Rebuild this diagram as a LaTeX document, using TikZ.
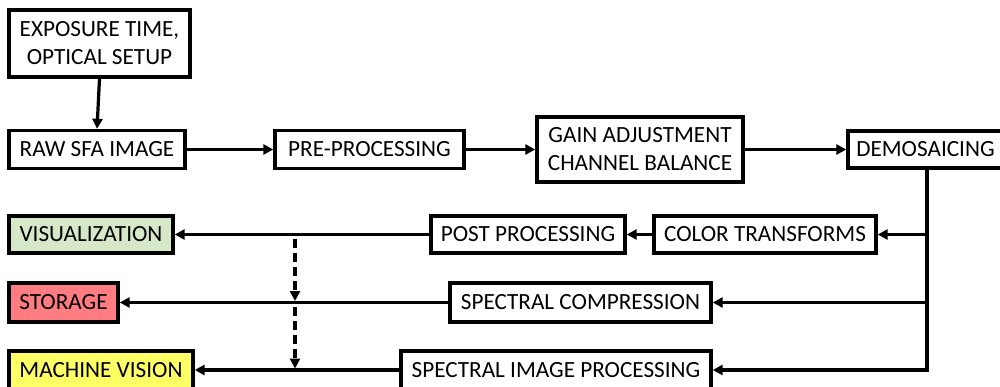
\documentclass[tikz,border=0pt]{standalone}
\usepackage{fontspec}
\setmainfont{Carlito}
\usetikzlibrary{arrows.meta}
\definecolor{visgreen}{HTML}{D6E8C8}
\definecolor{storred}{HTML}{FF7C80}
\definecolor{mvyellow}{HTML}{FFFF66}
\tikzset{
  blk/.style={draw=black, line width=3.4pt, fill=white, inner sep=0pt, align=center,
    font=\fontsize{23.2}{28}\selectfont},
  conn/.style={line width=3.2pt, -{Triangle[length=10pt,width=10pt]}},
  dconn/.style={line width=3.2pt, dash pattern=on 9pt off 5pt, -{Triangle[length=10pt,width=10pt]}},
}
\begin{document}
\begin{tikzpicture}[x=1pt,y=-1pt]
\useasboundingbox (0,0) rectangle (1000,387);
\node[blk, minimum width=181pt, minimum height=67pt] (expo) at (99.5,43.5) {EXPOSURE TIME,\\OPTICAL SETUP};
\node[blk, minimum width=176pt, minimum height=38pt] (raw) at (97,149.5) {RAW SFA IMAGE};
\node[blk, minimum width=189pt, minimum height=38pt] (pre) at (369.5,149.5) {PRE-PROCESSING};
\node[blk, minimum width=206pt, minimum height=65pt] (gain) at (640,149.5) {GAIN ADJUSTMENT\\CHANNEL BALANCE};
\node[blk, minimum width=155pt, minimum height=37pt] (demo) at (925.5,149.5) {DEMOSAICING};
\node[blk, minimum width=222pt, minimum height=37pt] (colt) at (765,234.5) {COLOR TRANSFORMS};
\node[blk, minimum width=194pt, minimum height=37pt] (post) at (528,234.5) {POST PROCESSING};
\node[blk, fill=visgreen, minimum width=164pt, minimum height=37pt] (vis) at (91,234.5) {VISUALIZATION};
\node[blk, minimum width=261pt, minimum height=39pt] (comp) at (580.5,302.5) {SPECTRAL COMPRESSION};
\node[blk, fill=storred, minimum width=109pt, minimum height=39pt] (stor) at (63.5,302.5) {STORAGE};
\node[blk, minimum width=310pt, minimum height=38pt] (sip) at (556,370) {SPECTRAL IMAGE PROCESSING};
\node[blk, fill=mvyellow, minimum width=184pt, minimum height=38pt] (mv) at (101,370) {MACHINE VISION};
\coordinate (bustop) at (927,168);
\coordinate (d1) at (295,239);
\coordinate (d2) at (295,301);
\coordinate (d3) at (295,307);
\coordinate (d4) at (295,368.5);
\draw[conn] (expo.south) -- (raw.north);
\draw[conn] (raw.east) -- (pre.west);
\draw[conn] (pre.east) -- (gain.west);
\draw[conn] (gain.east) -- (demo.west);
\draw[conn] (bustop) |- (sip.east);
\draw[conn] (bustop |- colt.east) -- (colt.east);
\draw[conn] (bustop |- comp.east) -- (comp.east);
\draw[conn] (colt.west) -- (post.east);
\draw[conn] (post.west) -- (vis.east);
\draw[conn] (comp.west) -- (stor.east);
\draw[conn] (sip.west) -- (mv.east);
\draw[dconn] (d1) -- (d2);
\draw[dconn] (d3) -- (d4);
\end{tikzpicture}
\end{document}
